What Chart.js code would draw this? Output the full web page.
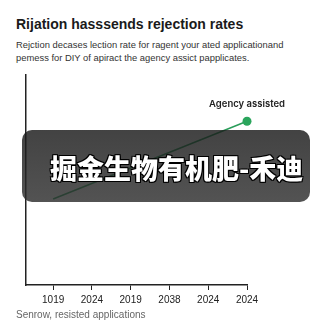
<!DOCTYPE html>
<html>
<head>
<meta charset="utf-8">
<script src="https://cdn.jsdelivr.net/npm/chart.js@4"></script>
<style>
  body { margin: 0; background: #fff; font-family: "Liberation Sans", Arial, sans-serif; }
  #wrap { position: relative; width: 332px; height: 332px; overflow: hidden; }
  .title { position: absolute; left: 16px; top: 16px; font-size: 14px; font-weight: 700; color: #1a1a1a; }
  .sub { position: absolute; left: 16px; top: 38px; font-size: 9.4px; line-height: 13px; color: #333; }
  .foot { position: absolute; left: 16px; top: 309px; font-size: 10px; color: #666; }
  #box { position: absolute; left: 22px; top: 130px; width: 288px; height: 72px; border-radius: 10px;
         background: linear-gradient(rgba(25,25,25,0.82), rgba(45,45,45,0.82)); }
  #box span { position: absolute; left: 28px; top: 18px; font-family: "Noto Sans CJK SC", sans-serif;
         font-size: 27px; font-weight: 900; color: #fff; white-space: nowrap;
         -webkit-text-stroke: 1.5px #000; paint-order: stroke fill;
         text-shadow: 1px 1px 0 #000, -1px -1px 0 #000, 1px -1px 0 #000, -1px 1px 0 #000; }
  #cv { position: absolute; left: 0; top: 60px; }
</style>
</head>
<body>
<div id="wrap">
  <div class="title">Rijation hasssends rejection rates</div>
  <div class="sub">Rejction decases lection rate for ragent your ated applicationand<br>pemess for DIY of apiract the agency assict papplicates.</div>
  <canvas id="cv" width="332" height="250"></canvas>
  <div class="foot">Senrow, resisted applications</div>
  <div id="box"><span>掘金生物有机肥-禾迪</span></div>
</div>
<script>
const years = ["1019", "2024", "2019", "2038", "2024", "2024"];
const agency = [41, null, null, null, null, 78];
const seriesName = "Agency assisted";

const pts = agency.map((v, i) => ({ x: i, y: v }));

const endLabel = {
  id: "endLabel",
  afterDatasetsDraw(chart) {
    const meta = chart.getDatasetMeta(0);
    const p = meta.data[meta.data.length - 1];
    const ctx = chart.ctx;
    ctx.save();
    ctx.font = "600 9.5px Inter, sans-serif";
    ctx.fillStyle = "#222";
    ctx.textAlign = "center";
    ctx.textBaseline = "bottom";
    ctx.fillText(seriesName, p.x, p.y - 12);
    ctx.restore();
  }
};

new Chart(document.getElementById("cv"), {
  type: "line",
  data: {
    datasets: [{
      label: seriesName,
      data: pts,
      borderColor: "#2a9d5a",
      borderWidth: 1.6,
      spanGaps: true,
      pointRadius: agency.map((v, i) => i === agency.length - 1 ? 4.5 : 0),
      pointBackgroundColor: "#2aa55c",
      pointBorderWidth: 0,
      clip: false
    }]
  },
  options: {
    responsive: false,
    animation: false,
    layout: { padding: { left: 18, right: 85, top: 15, bottom: 0 } },
    plugins: { legend: { display: false }, tooltip: { enabled: false } },
    scales: {
      x: {
        type: "linear",
        min: -0.7,
        max: 5,
        afterBuildTicks: s => { s.ticks = years.map((y, i) => ({ value: i })); },
        ticks: {
          callback: v => years[v],
          color: "#222",
          font: { size: 10, family: "Liberation Sans, sans-serif" },
          padding: 4,
          maxRotation: 0
        },
        grid: { drawOnChartArea: false, tickLength: 5, color: "#222" },
        border: { color: "#222", width: 1.5 }
      },
      y: {
        min: 0,
        max: 100,
        ticks: { display: false },
        grid: { display: false },
        border: { color: "#222", width: 1.5 }
      }
    }
  },
  plugins: [endLabel]
});
</script>
</body>
</html>
